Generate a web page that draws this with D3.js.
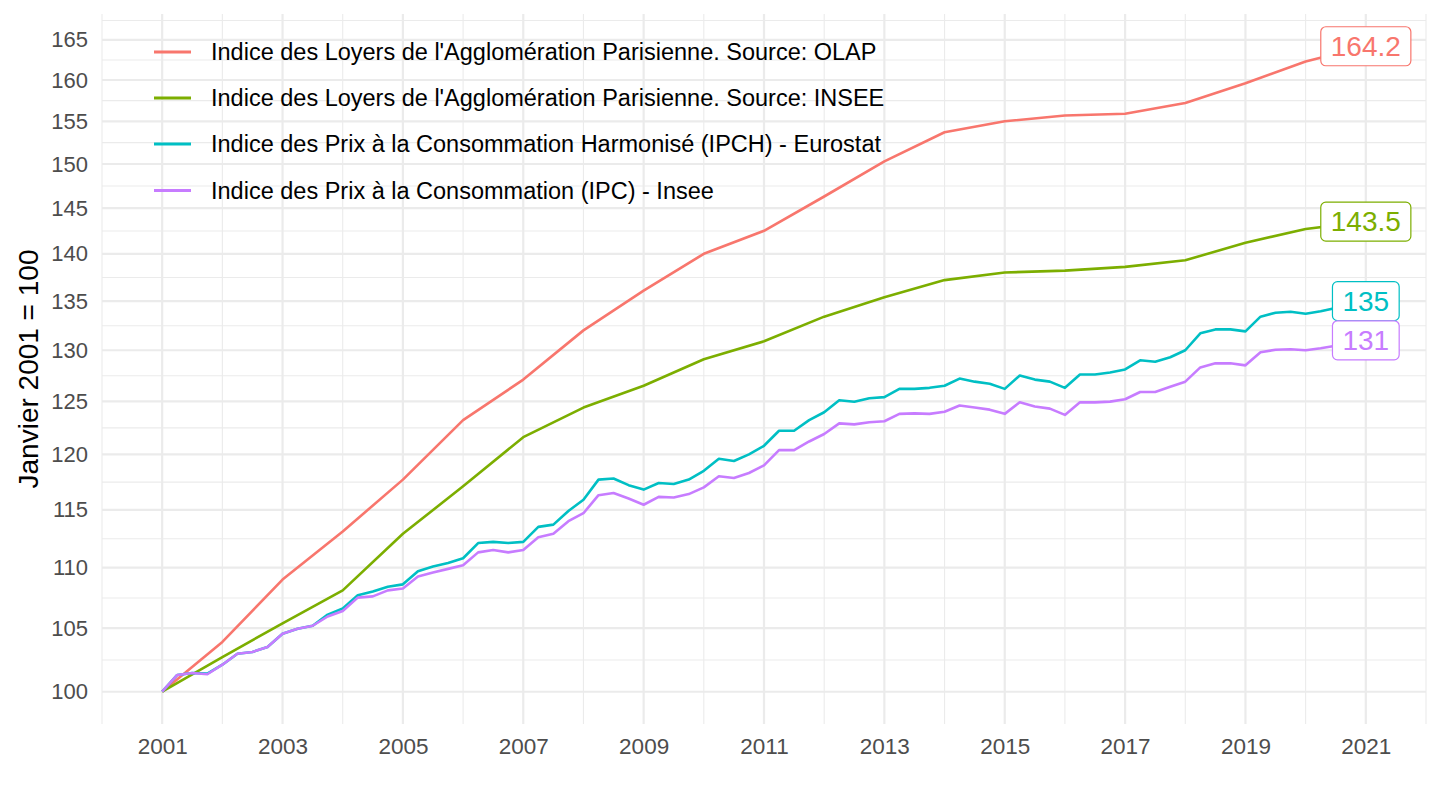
<!DOCTYPE html>
<html>
<head>
<meta charset="utf-8">
<script src="https://cdn.jsdelivr.net/npm/d3@7"></script>
<style>
  html, body { margin: 0; padding: 0; background: #ffffff; }
  svg { display: block; font-family: "Liberation Sans", Arial, Helvetica, sans-serif; }
</style>
</head>
<body>
<svg id="chart" width="1440" height="810"></svg>
<script>
// ---------------- Data ----------------
const seriesNames = [
  "Indice des Loyers de l'Agglomération Parisienne. Source: OLAP",
  "Indice des Loyers de l'Agglomération Parisienne. Source: INSEE",
  "Indice des Prix à la Consommation Harmonisé (IPCH) - Eurostat",
  "Indice des Prix à la Consommation (IPC) - Insee"
];
const seriesColors = ["#F8766D", "#7CAE00", "#00BFC4", "#C77CFF"];

const years = [2001, 2002, 2003, 2004, 2005, 2006, 2007, 2008, 2009, 2010,
               2011, 2012, 2013, 2014, 2015, 2016, 2017, 2018, 2019, 2020, 2021];
const olap = [100, 103.9, 109.0, 113.1, 117.7, 123.2, 127.1, 132.0, 136.1, 140.0,
              142.5, 146.3, 150.3, 153.7, 155.0, 155.7, 155.9, 157.2, 159.6, 162.3, 164.2];
const inseeLoyers = [100, 102.7, 105.4, 108.1, 112.9, 117.1, 121.6, 124.4, 126.5, 129.1,
                     130.9, 133.4, 135.4, 137.2, 138.0, 138.2, 138.6, 139.3, 141.2, 142.7, 143.5];

// quarterly dates 2001 Q1 ... 2021 Q1
const quarters = [
  2001.00, 2001.25, 2001.50, 2001.75, 2002.00, 2002.25, 2002.50, 2002.75,
  2003.00, 2003.25, 2003.50, 2003.75, 2004.00, 2004.25, 2004.50, 2004.75,
  2005.00, 2005.25, 2005.50, 2005.75, 2006.00, 2006.25, 2006.50, 2006.75,
  2007.00, 2007.25, 2007.50, 2007.75, 2008.00, 2008.25, 2008.50, 2008.75,
  2009.00, 2009.25, 2009.50, 2009.75, 2010.00, 2010.25, 2010.50, 2010.75,
  2011.00, 2011.25, 2011.50, 2011.75, 2012.00, 2012.25, 2012.50, 2012.75,
  2013.00, 2013.25, 2013.50, 2013.75, 2014.00, 2014.25, 2014.50, 2014.75,
  2015.00, 2015.25, 2015.50, 2015.75, 2016.00, 2016.25, 2016.50, 2016.75,
  2017.00, 2017.25, 2017.50, 2017.75, 2018.00, 2018.25, 2018.50, 2018.75,
  2019.00, 2019.25, 2019.50, 2019.75, 2020.00, 2020.25, 2020.50, 2020.75,
  2021.00
];
const ipch = [
  100.0, 101.3, 101.45, 101.4, 102.1, 102.96, 103.1, 103.5,
  104.55, 104.96, 105.2, 106.1, 106.6, 107.7, 108.0, 108.4,
  108.6, 109.7, 110.1, 110.4, 110.8, 112.1, 112.2, 112.1,
  112.2, 113.5, 113.7, 114.9, 115.9, 117.7, 117.8, 117.2,
  116.8, 117.4, 117.3, 117.7, 118.5, 119.6, 119.4, 120.0,
  120.8, 122.2, 122.2, 123.2, 123.95, 125.1, 124.95, 125.3,
  125.4, 126.2, 126.2, 126.3, 126.5, 127.2, 126.9, 126.7,
  126.2, 127.5, 127.1, 126.9, 126.3, 127.6, 127.6, 127.8,
  128.1, 129.0, 128.85, 129.3, 130.0, 131.7, 132.1, 132.1,
  131.9, 133.4, 133.8, 133.9, 133.7, 133.95, 134.3, 134.5,
  135.0
];
const ipc = [
  100.0, 101.3, 101.45, 101.35, 102.1, 102.96, 103.1, 103.5,
  104.55, 104.96, 105.2, 105.95, 106.4, 107.5, 107.6, 108.1,
  108.25, 109.26, 109.6, 109.9, 110.2, 111.3, 111.5, 111.3,
  111.5, 112.6, 112.9, 114.0, 114.7, 116.3, 116.5, 116.0,
  115.45, 116.15, 116.1, 116.4, 117.0, 118.0, 117.85, 118.3,
  119.0, 120.4, 120.4, 121.2, 121.9, 122.9, 122.8, 123.0,
  123.1, 123.8, 123.85, 123.8, 124.0, 124.6, 124.4, 124.2,
  123.8, 124.9, 124.5, 124.3, 123.7, 124.9, 124.9, 124.97,
  125.2, 125.9, 125.9, 126.4, 126.9, 128.3, 128.7, 128.7,
  128.5, 129.8, 130.05, 130.1, 130.0, 130.2, 130.45, 130.7,
  131.0
];
const endLabels = ["164.2", "143.5", "135", "131"];

const yTicks = [100, 105, 110, 115, 120, 125, 130, 135, 140, 145, 150, 155, 160, 165];
const xTicks = [2001, 2003, 2005, 2007, 2009, 2011, 2013, 2015, 2017, 2019, 2021];
const xMinor = [2000, 2002, 2004, 2006, 2008, 2010, 2012, 2014, 2016, 2018, 2020, 2022];
const yTitle = "Janvier 2001 = 100";

// ---------------- Layout ----------------
const panel = { left: 102, right: 1426, top: 14, bottom: 724 };
const svg = d3.select("#chart");

// ggplot-like 5% expansion on log scale
const yMinData = 100, yMaxData = 164.2;
const lr = Math.log(yMaxData) - Math.log(yMinData);
const yLo = Math.exp(Math.log(yMinData) - 0.05 * lr);
const yHi = Math.exp(Math.log(yMaxData) + 0.05 * lr);

const x = d3.scaleLinear().domain([2000, 2022]).range([panel.left, panel.right]);
const y = d3.scaleLog().domain([yLo, yHi]).range([panel.bottom, panel.top]);

// minor y gridlines: geometric midpoints between major breaks (plus outer ones)
const yMinor = [];
const ext = [95].concat(yTicks).concat([170]);
for (let i = 0; i < ext.length - 1; i++) {
  const m = Math.sqrt(ext[i] * ext[i + 1]);
  if (m > yLo && m < yHi) yMinor.push(m);
}

const grid = svg.append("g");
grid.selectAll(".ymin").data(yMinor).enter().append("line")
  .attr("x1", panel.left).attr("x2", panel.right)
  .attr("y1", d => y(d)).attr("y2", d => y(d))
  .attr("stroke", "#ebebeb").attr("stroke-width", 1.1);
grid.selectAll(".xmin").data(xMinor).enter().append("line")
  .attr("y1", panel.top).attr("y2", panel.bottom)
  .attr("x1", d => x(d)).attr("x2", d => x(d))
  .attr("stroke", "#ebebeb").attr("stroke-width", 1.1);
grid.selectAll(".ymaj").data(yTicks).enter().append("line")
  .attr("x1", panel.left).attr("x2", panel.right)
  .attr("y1", d => y(d)).attr("y2", d => y(d))
  .attr("stroke", "#ebebeb").attr("stroke-width", 2.2);
grid.selectAll(".xmaj").data(xTicks).enter().append("line")
  .attr("y1", panel.top).attr("y2", panel.bottom)
  .attr("x1", d => x(d)).attr("x2", d => x(d))
  .attr("stroke", "#ebebeb").attr("stroke-width", 2.2);

// axes (text only, like theme_minimal)
const yAxis = svg.append("g").attr("transform", `translate(${panel.left},0)`)
  .call(d3.axisLeft(y).tickValues(yTicks).tickFormat(d3.format("d")).tickSize(0).tickPadding(14));
yAxis.select(".domain").remove();
yAxis.selectAll("text").attr("font-size", 22).attr("fill", "#4d4d4d")
  .attr("font-family", "'Liberation Sans', Arial, sans-serif");

const xAxis = svg.append("g").attr("transform", `translate(0,${panel.bottom})`)
  .call(d3.axisBottom(x).tickValues(xTicks).tickFormat(d3.format("d")).tickSize(0).tickPadding(14));
xAxis.select(".domain").remove();
xAxis.selectAll("text").attr("font-size", 22.5).attr("fill", "#4d4d4d")
  .attr("font-family", "'Liberation Sans', Arial, sans-serif");

// y title
svg.append("text")
  .attr("transform", `translate(38,${(panel.top + panel.bottom) / 2}) rotate(-90)`)
  .attr("text-anchor", "middle")
  .attr("font-size", 28).attr("fill", "#000")
  .text(yTitle);

// ---------------- Series ----------------
const series = [
  { xs: years, vs: olap },
  { xs: years, vs: inseeLoyers },
  { xs: quarters, vs: ipch },
  { xs: quarters, vs: ipc }
];
const line = d3.line().x(d => x(d[0])).y(d => y(d[1]));
series.forEach((s, i) => {
  const pts = s.xs.map((t, j) => [t, s.vs[j]]);
  svg.append("path").datum(pts)
    .attr("d", line)
    .attr("fill", "none")
    .attr("stroke", seriesColors[i])
    .attr("stroke-width", 2.6)
    .attr("stroke-linejoin", "round");
});

// ---------------- End labels ----------------
series.forEach((s, i) => {
  const n = s.xs.length - 1;
  const cx = x(s.xs[n]), cy = y(s.vs[n]);
  const g = svg.append("g");
  const rect = g.append("rect");
  const t = g.append("text")
    .attr("x", cx).attr("y", cy)
    .attr("text-anchor", "middle").attr("dominant-baseline", "central")
    .attr("font-size", 28).attr("fill", seriesColors[i])
    .text(endLabels[i]);
  const w = t.node().getComputedTextLength() + 20;
  const h = 39;
  rect.attr("x", cx - w / 2).attr("y", cy - h / 2)
    .attr("width", w).attr("height", h)
    .attr("rx", 5).attr("ry", 5)
    .attr("fill", "#fff").attr("stroke", seriesColors[i]).attr("stroke-width", 1.2);
});

// ---------------- Legend ----------------
const legendRows = [52, 98, 144, 190.5];
const lg = svg.append("g");
seriesNames.forEach((name, i) => {
  lg.append("line")
    .attr("x1", 154).attr("x2", 191)
    .attr("y1", legendRows[i]).attr("y2", legendRows[i])
    .attr("stroke", seriesColors[i]).attr("stroke-width", 2.8);
  lg.append("text")
    .attr("x", 211).attr("y", legendRows[i])
    .attr("dominant-baseline", "central")
    .attr("font-size", 23.5).attr("fill", "#000")
    .text(name);
});
</script>
</body>
</html>
